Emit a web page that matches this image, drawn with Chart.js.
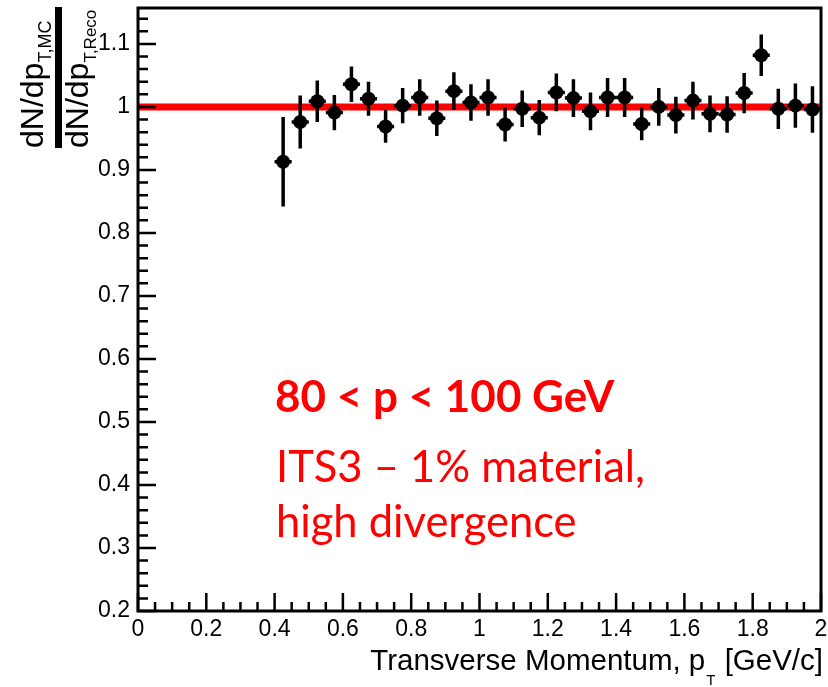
<!DOCTYPE html>
<html lang="en">
<head>
    <meta charset="UTF-8">
    <title>pT ratio</title>
    <script src="https://cdn.jsdelivr.net/npm/chart.js"></script>
    <style>
        body { margin: 0; background: #fff; }
        canvas { display: block; }
    </style>
</head>
<body>
    <canvas id="myChart" width="828" height="687"></canvas>

    <script>
        // bin centres (GeV/c), ratio MC/Reco and its error
        const ptBins = [0.425, 0.475, 0.525, 0.575, 0.625, 0.675, 0.725, 0.775, 0.825, 0.875, 0.925,
                        0.975, 1.025, 1.075, 1.125, 1.175, 1.225, 1.275, 1.325, 1.375, 1.425,
                        1.475, 1.525, 1.575, 1.625, 1.675, 1.725, 1.775, 1.825, 1.875, 1.925, 1.975];
        const ratio = [0.913, 0.976, 1.009, 0.991, 1.036, 1.013, 0.969, 1.002, 1.015, 0.982, 1.025,
                       1.007, 1.015, 0.972, 0.997, 0.983, 1.023, 1.014, 0.993, 1.015, 1.015,
                       0.973, 1.000, 0.987, 1.010, 0.989, 0.988, 1.022, 1.082, 0.997, 1.002, 0.996];
        const ratioErr = [0.071, 0.042, 0.033, 0.028, 0.028, 0.027, 0.026, 0.028, 0.029, 0.028, 0.030,
                          0.029, 0.029, 0.027, 0.029, 0.028, 0.030, 0.030, 0.030, 0.031, 0.031,
                          0.026, 0.030, 0.029, 0.030, 0.029, 0.029, 0.032, 0.033, 0.032, 0.035, 0.037];
        const binHalf = 0.025;
        const refLine = [{x: 0, y: 1}, {x: 2, y: 1}];

        const label1 = '80 < p < 100 GeV';
        const label2 = 'ITS3 \u2013 1% material,';
        const label3 = 'high divergence';

        const rootFont = '"Liberation Sans", Arial, sans-serif';

        // error bars, ROOT style
        const errorBars = {
            id: 'errorBars',
            afterDatasetsDraw(chart) {
                const {ctx, scales: {x, y}} = chart;
                ctx.save();
                ctx.strokeStyle = '#000';
                ctx.lineWidth = 3.5;
                ptBins.forEach((pt, i) => {
                    const px = x.getPixelForValue(pt);
                    const py = y.getPixelForValue(ratio[i]);
                    ctx.beginPath();
                    ctx.moveTo(px, y.getPixelForValue(ratio[i] - ratioErr[i]));
                    ctx.lineTo(px, y.getPixelForValue(ratio[i] + ratioErr[i]));
                    ctx.moveTo(x.getPixelForValue(pt - binHalf), py);
                    ctx.lineTo(x.getPixelForValue(pt + binHalf), py);
                    ctx.stroke();
                });
                ctx.restore();
            }
        };

        // frame + inward ticks + titles + labels
        const frame = {
            id: 'frame',
            afterDraw(chart) {
                const {ctx, chartArea: a, scales: {x, y}} = chart;
                ctx.save();
                ctx.strokeStyle = '#000';
                ctx.lineWidth = 3;
                ctx.strokeRect(a.left, a.top, a.right - a.left, a.bottom - a.top);

                ctx.lineWidth = 2.5;
                ctx.beginPath();
                for (let i = 0; i <= 40; i++) {
                    const v = i * 0.05;
                    const px = x.getPixelForValue(v);
                    const len = (i % 4 === 0) ? 18 : 9;
                    ctx.moveTo(px, a.bottom);
                    ctx.lineTo(px, a.bottom - len);
                }
                for (let i = 0; i <= 48; i++) {
                    const v = 0.2 + i * 0.02;
                    if (v > y.max) break;
                    const py = y.getPixelForValue(v);
                    const len = (i % 5 === 0) ? 18 : 10;
                    ctx.moveTo(a.left, py);
                    ctx.lineTo(a.left + len, py);
                }
                ctx.stroke();

                // x title
                ctx.fillStyle = '#000';
                ctx.textBaseline = 'alphabetic';
                ctx.textAlign = 'left';
                const main = '29.5px ' + rootFont, sub = '15px ' + rootFont;
                const t1 = 'Transverse Momentum, p', t2 = 'T', t3 = ' [GeV/c]';
                ctx.font = main;
                const w1 = ctx.measureText(t1).width, w3 = ctx.measureText(t3).width;
                ctx.font = sub;
                const w2 = ctx.measureText(t2).width + 2;
                let xs = 823 - (w1 + w2 + w3);
                ctx.font = main;
                ctx.fillText(t1, xs, 670);
                ctx.font = sub;
                ctx.fillText(t2, xs + w1 + 1, 685);
                ctx.font = main;
                ctx.fillText(t3, xs + w1 + w2, 670);

                // y title: fraction, rotated
                const drawRot = (cx, cy, parts) => {
                    ctx.save();
                    ctx.translate(cx, cy);
                    ctx.rotate(-Math.PI / 2);
                    let off = 0;
                    parts.forEach(p => {
                        ctx.font = p.font;
                        ctx.fillText(p.text, off, p.dy);
                        off += ctx.measureText(p.text).width;
                    });
                    ctx.restore();
                };
                const fracFont = '32px ' + rootFont;
                drawRot(43, 148, [
                    {text: 'dN/dp', font: fracFont, dy: 0},
                    {text: 'T,MC', font: '18px ' + rootFont, dy: 8}
                ]);
                drawRot(88, 148, [
                    {text: 'dN/dp', font: fracFont, dy: 0},
                    {text: 'T,Reco', font: '17px ' + rootFont, dy: 8}
                ]);
                ctx.fillRect(55, 7, 7, 141);

                // red labels
                ctx.fillStyle = '#ff0000';
                ctx.font = 'bold 44px Lato, sans-serif';
                ctx.fillText(label1, 275, 412);
                ctx.font = '43.5px Lato, sans-serif';
                ctx.fillText(label2, 276, 482);
                ctx.fillText(label3, 276, 537);
                ctx.restore();
            }
        };

        const fmt = v => String(Math.round(v * 10) / 10);

        const ctx = document.getElementById('myChart').getContext('2d');
        const myChart = new Chart(ctx, {
            type: 'scatter',
            data: {
                datasets: [
                    {
                        type: 'line',
                        data: refLine,
                        borderColor: '#ff0000',
                        borderWidth: 7,
                        pointRadius: 0,
                        order: 2
                    },
                    {
                        data: ptBins.map((pt, i) => ({x: pt, y: ratio[i]})),
                        backgroundColor: '#000',
                        borderColor: '#000',
                        borderWidth: 0,
                        pointRadius: 7,
                        order: 1
                    }
                ]
            },
            options: {
                responsive: false,
                animation: false,
                layout: { padding: { top: 8, right: 7, left: 0, bottom: 0 } },
                plugins: { legend: { display: false }, tooltip: { enabled: false } },
                scales: {
                    x: {
                        type: 'linear',
                        min: 0,
                        max: 2,
                        grid: { display: false, drawTicks: false },
                        border: { display: false },
                        ticks: {
                            stepSize: 0.2,
                            includeBounds: false,
                            autoSkip: false,
                            maxRotation: 0,
                            padding: 5,
                            color: '#000',
                            font: { family: rootFont, size: 23 },
                            callback: fmt
                        },
                        afterFit: s => { s.height = 76; s.paddingLeft = 0; s.paddingRight = 0; }
                    },
                    y: {
                        min: 0.2,
                        max: 1.157,
                        grid: { display: false, drawTicks: false },
                        border: { display: false },
                        ticks: {
                            stepSize: 0.1,
                            includeBounds: false,
                            padding: 8,
                            color: '#000',
                            font: { family: rootFont, size: 23 },
                            callback: fmt
                        },
                        afterFit: s => { s.width = 138; s.paddingTop = 0; s.paddingBottom = 0; }
                    }
                }
            },
            plugins: [errorBars, frame]
        });
    </script>
</body>
</html>
